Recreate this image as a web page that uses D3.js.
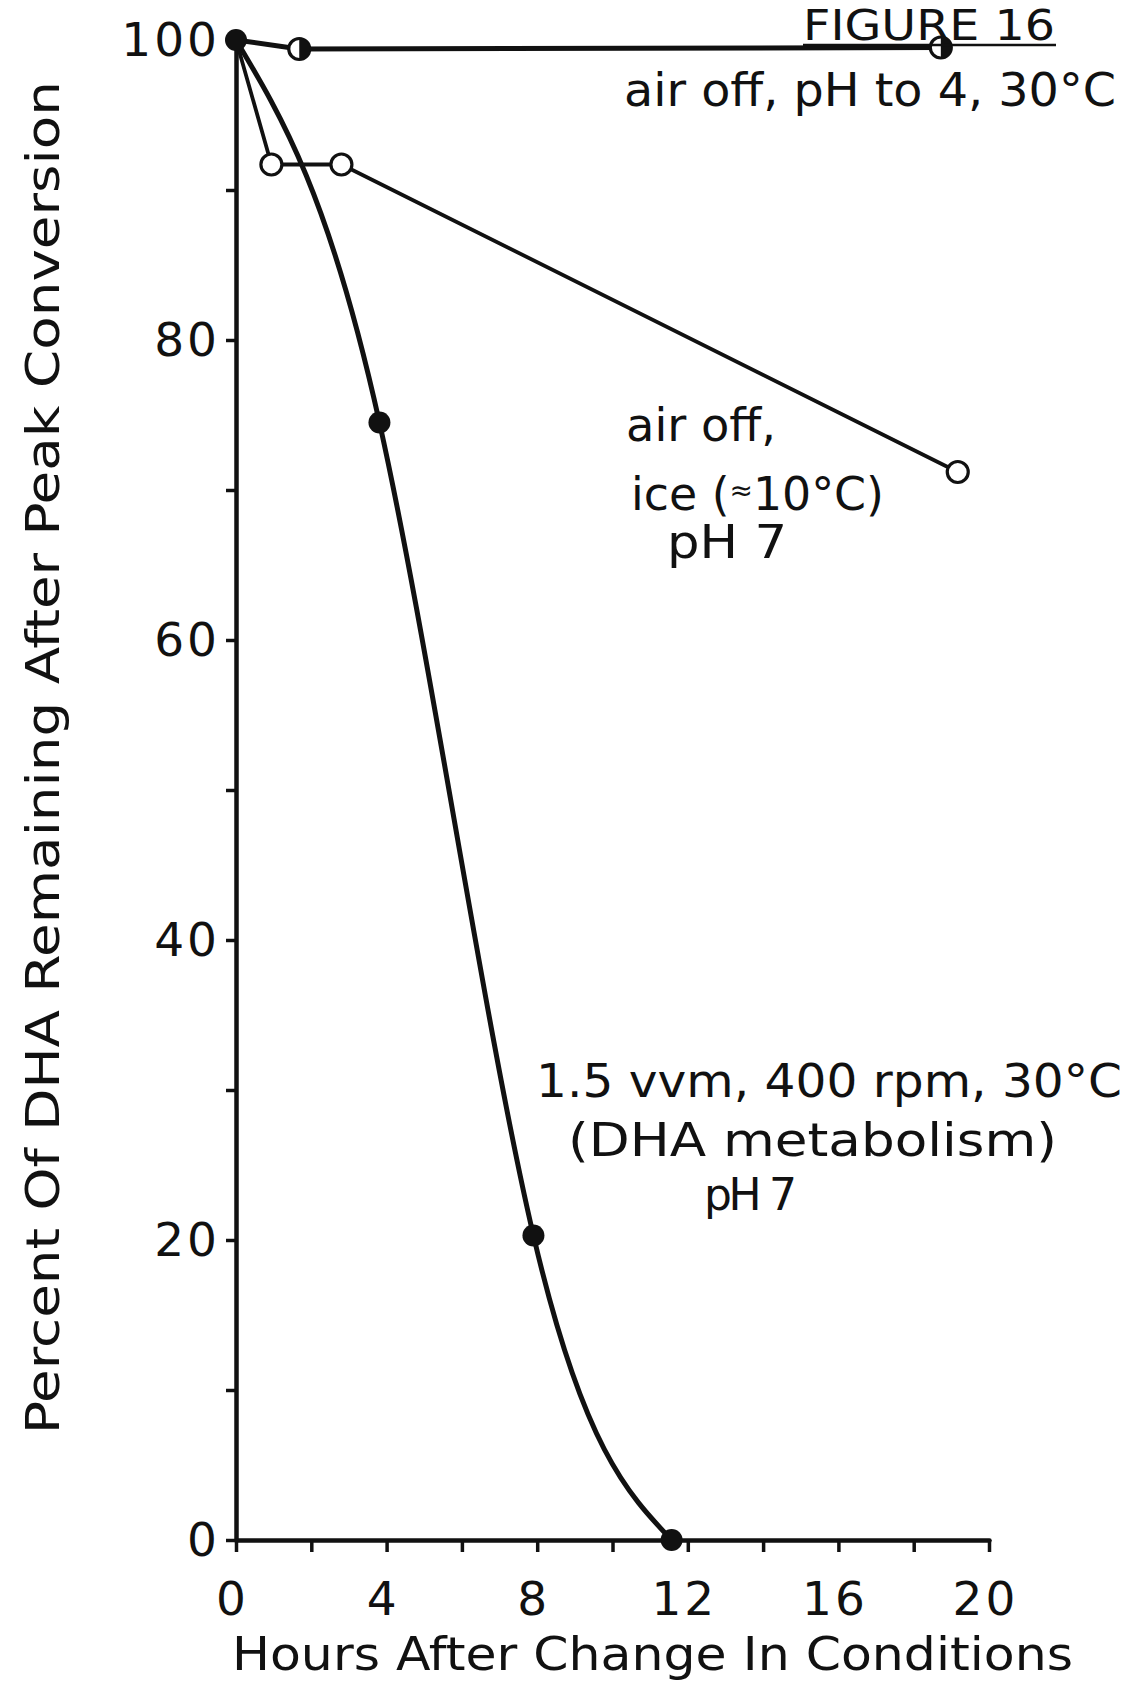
<!DOCTYPE html>
<html>
<head>
<meta charset="utf-8">
<script src="https://cdn.jsdelivr.net/npm/d3@7"></script>
<style>
  body { margin: 0; background: #fff; }
  svg { display: block; }
  text { font-family: "DejaVu Sans", sans-serif; fill: #111; }
</style>
</head>
<body>
<svg id="chart" width="1126" height="1691"></svg>
<script>
// Hours after the change in conditions and % DHA remaining, per condition
const hoursMetab = [0, 3.81, 7.9, 11.57];
const pctMetab   = [100, 74.5, 20.3, 0];

const hoursPh4 = [0, 1.68, 18.72];
const pctPh4   = [100, 99.4, 99.5];

const hoursIce = [0, 0.94, 2.8, 19.17];
const pctIce   = [100, 91.7, 91.7, 71.2];

// Axis ticks and which of them carry labels
const xTicks = [0, 2, 4, 6, 8, 10, 12, 14, 16, 18, 20];
const xTickLabels = [0, 4, 8, 12, 16, 20];
const yTicks = [0, 10, 20, 30, 40, 50, 60, 70, 80, 90, 100];
const yTickLabels = [0, 20, 40, 60, 80, 100];

const svg = d3.select("#chart");
const ink = "#111";

const x = d3.scaleLinear().domain([0, 20]).range([236, 989]);
const y = d3.scaleLinear().domain([0, 100]).range([1540, 40]);

// ---- axes ----
const xAxis = d3.axisBottom(x)
  .tickValues(xTicks)
  .tickSize(12)
  .tickSizeOuter(0)
  .tickPadding(30)
  .tickFormat(d => xTickLabels.includes(d) ? d : "");

const yAxis = d3.axisLeft(y)
  .tickValues(yTicks)
  .tickSize(10)
  .tickSizeOuter(0)
  .tickPadding(12)
  .tickFormat(d => yTickLabels.includes(d) ? d : "");

const gx = svg.append("g").attr("transform", `translate(0,${y(0)})`).call(xAxis);
const gy = svg.append("g").attr("transform", `translate(${x(0)},0)`).call(yAxis);

[gx, gy].forEach(g => {
  g.select(".domain").attr("stroke", ink).attr("stroke-width", 4.5).attr("stroke-linecap", "round");
  g.selectAll(".tick line").attr("stroke", ink).attr("stroke-width", 3.5);
  g.selectAll(".tick text")
    .attr("fill", ink)
    .style("font-family", "'DejaVu Sans', sans-serif")
    .style("font-size", "47px")
    .style("letter-spacing", "3px");
});
gx.selectAll(".tick text").attr("dx", "-4");
gy.selectAll(".tick text").attr("dx", "6");

// ---- series lines ----
const toPts = (xs, ys) => xs.map((h, i) => [h, ys[i]]);
const metab = toPts(hoursMetab, pctMetab);
const ph4 = toPts(hoursPh4, pctPh4);
const ice = toPts(hoursIce, pctIce);

const smooth = d3.line().x(d => x(d[0])).y(d => y(d[1])).curve(d3.curveNatural);
const straight = d3.line().x(d => x(d[0])).y(d => y(d[1]));

const lines = svg.append("g").attr("fill", "none").attr("stroke", ink).attr("stroke-linejoin", "round");
lines.append("path").attr("d", smooth(metab)).attr("stroke-width", 5);
lines.append("path").attr("d", straight(ph4)).attr("stroke-width", 5);
lines.append("path").attr("d", straight(ice)).attr("stroke-width", 3.8);

// ---- markers ----
const r = 10.5;
const marks = svg.append("g");

// open circles: ice
marks.selectAll("circle.ice").data(ice.slice(1)).join("circle")
  .attr("class", "ice")
  .attr("cx", d => x(d[0])).attr("cy", d => y(d[1])).attr("r", r)
  .attr("fill", "#fff").attr("stroke", ink).attr("stroke-width", 3.2);

// half-filled circles: pH to 4
const half = marks.selectAll("g.ph4").data(ph4.slice(1)).join("g")
  .attr("class", "ph4")
  .attr("transform", d => `translate(${x(d[0])},${y(d[1])})`);
half.append("circle").attr("r", r).attr("fill", "#fff").attr("stroke", ink).attr("stroke-width", 3.2);
half.append("path").attr("d", `M0,${-r} A${r},${r} 0 0 1 0,${r} Z`).attr("fill", ink);

// filled circles: metabolism
marks.selectAll("circle.metab").data(metab).join("circle")
  .attr("class", "metab")
  .attr("cx", d => x(d[0])).attr("cy", d => y(d[1])).attr("r", r + 0.5)
  .attr("fill", ink);

// ---- text ----
function label(txt, xLeft, baseline, size, width, adjust) {
  const t = svg.append("text")
    .attr("x", xLeft).attr("y", baseline)
    .style("font-size", size + "px")
    .text(txt);
  if (width) t.attr("textLength", width).attr("lengthAdjust", adjust || "spacingAndGlyphs");
  return t;
}

label("FIGURE 16", 803, 40, 42, 252);
svg.append("line").attr("x1", 803).attr("x2", 1056).attr("y1", 45).attr("y2", 45)
  .attr("stroke", ink).attr("stroke-width", 2.5);

label("air off, pH  to 4, 30°C", 624, 106, 46, 492);

label("air off,", 626, 441, 46, 150);
const iceLbl = svg.append("text").attr("x", 631).attr("y", 510).style("font-size", "46px")
  .attr("textLength", 253).attr("lengthAdjust", "spacingAndGlyphs");
iceLbl.append("tspan").text("ice (");
iceLbl.append("tspan").text("≈").style("font-size", "28px").attr("dy", -10);
iceLbl.append("tspan").text("10°C)").attr("dy", 10);
label("pH 7", 667, 558, 46, 120);

label("1.5 vvm, 400 rpm, 30°C", 536, 1097, 46, 586);
label("(DHA metabolism)", 568, 1156, 46, 489);
label("pH 7", 704, 1210, 44, 93, "spacing");

label("Hours After Change In Conditions", 232, 1670, 46, 841);

svg.append("text")
  .attr("transform", "translate(59,1434) rotate(-90)")
  .style("font-size", "47px")
  .attr("textLength", 1353).attr("lengthAdjust", "spacingAndGlyphs")
  .text("Percent Of DHA Remaining After Peak Conversion");
</script>
</body>
</html>
